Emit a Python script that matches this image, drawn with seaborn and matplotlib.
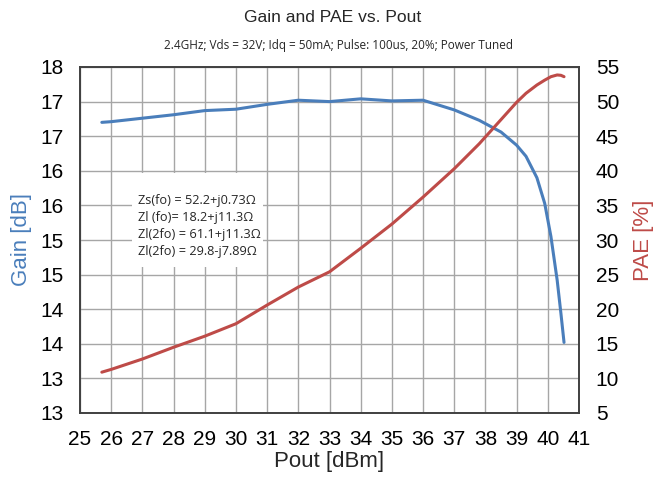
import numpy as np
import pandas as pd
import seaborn as sns
import matplotlib.pyplot as plt
from matplotlib.patches import Rectangle

# data
pout = [25.7, 26, 27, 28, 29, 30, 31, 32, 33, 34, 35, 36, 37, 37.8, 38.5,
        39, 39.3, 39.65, 39.9, 40.1, 40.3, 40.42, 40.52]
gain = [17.20, 17.21, 17.26, 17.31, 17.37, 17.39, 17.46, 17.52, 17.50, 17.54,
        17.51, 17.52, 17.38, 17.23, 17.06, 16.87, 16.71, 16.40, 16.03, 15.55,
        14.92, 14.44, 14.02]
pae = [10.9, 11.3, 12.8, 14.5, 16.1, 17.9, 20.6, 23.2, 25.4, 28.8, 32.3,
       36.2, 40.3, 43.9, 47.4, 49.9, 51.2, 52.4, 53.1, 53.6, 53.85, 53.8, 53.6]

x_ticks = list(range(25, 42))
gain_ticks = [13, 13.5, 14, 14.5, 15, 15.5, 16, 16.5, 17, 17.5, 18]
gain_tick_labels = ['13', '13', '14', '14', '15', '15', '16', '16', '17', '17', '18']
pae_ticks = [5, 10, 15, 20, 25, 30, 35, 40, 45, 50, 55]

impedances = ['Zs(fo) = 52.2+j0.73\u03a9',
              'Zl (fo)= 18.2+j11.3\u03a9',
              'Zl(2fo) = 61.1+j11.3\u03a9',
              'Zl(2fo) = 29.8-j7.89\u03a9']

blue = '#4a7ebb'
red = '#be4b48'

df = pd.DataFrame({'pout': pout, 'gain': gain, 'pae': pae})

sns.set_theme(style='white')
plt.rcParams['font.family'] = ['Liberation Sans', 'DejaVu Sans']

fig = plt.figure(figsize=(6.59, 4.78), dpi=100)
ax = fig.add_axes([80 / 659, 1 - 413 / 478, 499 / 659, 346 / 478])
ax2 = ax.twinx()

sns.lineplot(data=df, x='pout', y='gain', ax=ax, color=blue, lw=2.2, zorder=3)
sns.lineplot(data=df, x='pout', y='pae', ax=ax2, color=red, lw=2.2)

ax.set_xlim(25, 41)
ax.set_ylim(13, 18)
ax2.set_ylim(5, 55)
ax.set_xticks(x_ticks)
ax.set_yticks(gain_ticks)
ax.set_yticklabels(gain_tick_labels)
ax2.set_yticks(pae_ticks)

ax.grid(True, color='#a6a6a6', lw=1)
ax.set_axisbelow(True)
for a in (ax, ax2):
    a.tick_params(length=0, labelsize=15, colors='black', pad=12)
    for s in a.spines.values():
        s.set_color('#404040')
        s.set_linewidth(1.2)

ax.set_xlabel('Pout [dBm]', fontsize=16, labelpad=2)
ax.set_ylabel('Gain [dB]', fontsize=16, color=blue, labelpad=6)
ax2.set_ylabel('PAE [%]', fontsize=16, color=red, labelpad=10)

# impedance text box (white patch hides the grid)
ax.add_patch(Rectangle((26.66, 15.11), 4.21, 1.36, facecolor='white',
                       edgecolor='none', zorder=2))
ax.text(26.87, 15.70, '\n'.join(impedances), fontsize=9.2,
        family=['Open Sans', 'DejaVu Sans'], linespacing=1.41, va='center', ha='left',
        zorder=4)

fig.text(333 / 659, 1 - 18 / 478, 'Gain and PAE vs. Pout', ha='center', va='center',
         fontsize=12.6)
fig.text(338 / 659, 1 - 46 / 478, '2.4GHz; Vds = 32V; Idq = 50mA; Pulse: 100us, 20%; Power Tuned',
         ha='center', va='center', fontsize=8.5, family=['Open Sans', 'DejaVu Sans'])

fig.savefig('out.png', dpi=100)
